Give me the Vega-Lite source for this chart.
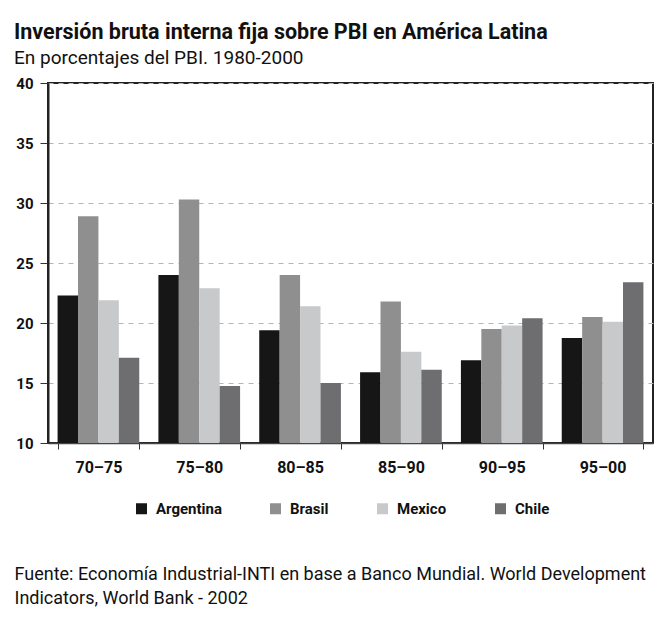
{
  "$schema": "https://vega.github.io/schema/vega-lite/v6.json",
  "width": 605,
  "height": 360,
  "autosize": {"type": "none"},
  "padding": {"left": 48, "top": 83, "right": 13, "bottom": 182},
  "background": "white",
  "title": {
    "text": "Inversión bruta interna fija sobre PBI en América Latina",
    "subtitle": "En porcentajes del PBI. 1980-2000",
    "anchor": "start",
    "frame": "group",
    "dx": -34,
    "offset": 8,
    "font": "Roboto",
    "fontSize": 21.5,
    "fontWeight": "bold",
    "color": "#111",
    "subtitleFont": "Roboto",
    "subtitleFontSize": 19,
    "subtitleColor": "#111",
    "subtitlePadding": 6
  },
  "data": {
    "values": [
      {"periodo": "70–75", "pais": "Argentina", "valor": 22.3},
      {"periodo": "70–75", "pais": "Brasil", "valor": 28.9},
      {"periodo": "70–75", "pais": "Mexico", "valor": 21.9},
      {"periodo": "70–75", "pais": "Chile", "valor": 17.1},
      {"periodo": "75–80", "pais": "Argentina", "valor": 24.0},
      {"periodo": "75–80", "pais": "Brasil", "valor": 30.3},
      {"periodo": "75–80", "pais": "Mexico", "valor": 22.9},
      {"periodo": "75–80", "pais": "Chile", "valor": 14.75},
      {"periodo": "80–85", "pais": "Argentina", "valor": 19.4},
      {"periodo": "80–85", "pais": "Brasil", "valor": 24.0},
      {"periodo": "80–85", "pais": "Mexico", "valor": 21.4},
      {"periodo": "80–85", "pais": "Chile", "valor": 15.0},
      {"periodo": "85–90", "pais": "Argentina", "valor": 15.9},
      {"periodo": "85–90", "pais": "Brasil", "valor": 21.8},
      {"periodo": "85–90", "pais": "Mexico", "valor": 17.6},
      {"periodo": "85–90", "pais": "Chile", "valor": 16.1},
      {"periodo": "90–95", "pais": "Argentina", "valor": 16.9},
      {"periodo": "90–95", "pais": "Brasil", "valor": 19.5},
      {"periodo": "90–95", "pais": "Mexico", "valor": 19.8},
      {"periodo": "90–95", "pais": "Chile", "valor": 20.4},
      {"periodo": "95–00", "pais": "Argentina", "valor": 18.75},
      {"periodo": "95–00", "pais": "Brasil", "valor": 20.5},
      {"periodo": "95–00", "pais": "Mexico", "valor": 20.1},
      {"periodo": "95–00", "pais": "Chile", "valor": 23.4}
    ]
  },
  "mark": {"type": "bar", "clip": true},
  "encoding": {
    "x": {
      "field": "periodo",
      "type": "nominal",
      "sort": null,
      "scale": {"paddingInner": 0.19, "paddingOuter": 0.095},
      "axis": {
        "title": ["Fuente: Economía Industrial-INTI en base a Banco Mundial. World Development", "Indicators, World Bank - 2002"],
        "titleX": -34,
        "titleY": 122,
        "titleAlign": "left",
        "titleAnchor": "start",
        "titleBaseline": "top",
        "titleFont": "Roboto",
        "titleFontSize": 18,
        "titleFontWeight": "normal",
        "titleColor": "#111",
        "titleLineHeight": 24,
        "labelAngle": 0,
        "labelFont": "Roboto",
        "labelFontSize": 16,
        "labelFontWeight": "bold",
        "labelColor": "#111",
        "labelPadding": 10,
        "tickBand": "extent",
        "tickSize": 6,
        "tickColor": "#333",
        "domainColor": "#444",
        "domainWidth": 1.5
      }
    },
    "xOffset": {"field": "pais", "type": "nominal", "sort": ["Argentina", "Brasil", "Mexico", "Chile"], "scale": {"paddingInner": 0, "paddingOuter": 0}},
    "y": {
      "field": "valor",
      "type": "quantitative",
      "scale": {"domain": [10, 40], "nice": false, "zero": false},
      "axis": {
        "title": null,
        "values": [10, 15, 20, 25, 30, 35, 40],
        "labelFont": "Roboto",
        "labelFontSize": 15,
        "labelFontWeight": "bold",
        "labelColor": "#111",
        "labelPadding": 7,
        "tickSize": 8,
        "tickColor": "#333",
        "domainColor": "#222",
        "domainWidth": 2,
        "grid": true,
        "gridColor": "#b4b4b4",
        "gridDash": [5, 5],
        "gridWidth": 1
      }
    },
    "color": {
      "field": "pais",
      "type": "nominal",
      "sort": ["Argentina", "Brasil", "Mexico", "Chile"],
      "scale": {"domain": ["Argentina", "Brasil", "Mexico", "Chile"], "range": ["#161616", "#8f8f8f", "#c8c9cb", "#6e6e70"]},
      "legend": {
        "title": null,
        "orient": "none",
        "direction": "horizontal",
        "legendX": 86,
        "legendY": 418,
        "symbolType": "square",
        "symbolSize": 121,
        "symbolStrokeWidth": 0,
        "labelFont": "Roboto",
        "labelFontSize": 15,
        "labelFontWeight": "bold",
        "labelColor": "#111",
        "labelOffset": 7,
        "columnPadding": 46
      }
    }
  },
  "config": {
    "view": {"stroke": "#222", "strokeWidth": 2}
  }
}
